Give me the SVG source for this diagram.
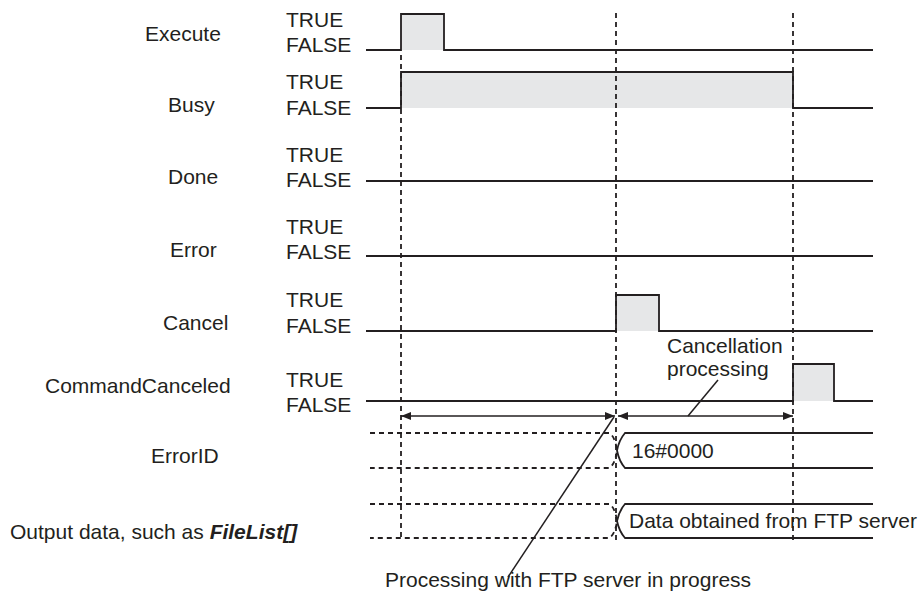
<svg xmlns="http://www.w3.org/2000/svg" width="923" height="602" viewBox="0 0 923 602">
<defs>
<style>
text{font-family:"Liberation Sans",Arial,sans-serif;font-size:21px;fill:#231f20}
.sig{fill:none;stroke:#231f20;stroke-width:1.8}
.fill{fill:#e6e7e8;stroke:none}
.dash{fill:none;stroke:#231f20;stroke-width:1.8;stroke-dasharray:5,4}
.ln{fill:none;stroke:#231f20;stroke-width:1.5}
</style>
<marker id="ah" viewBox="0 0 10 8" refX="10" refY="4" markerWidth="10" markerHeight="8" markerUnits="userSpaceOnUse" orient="auto-start-reverse">
<path d="M0,0 L10,4 L0,8 Z" fill="#231f20"/>
</marker>
</defs>
<rect width="923" height="602" fill="#fff"/>

<g id="execute">
<text x="145" y="41">Execute</text>
<text x="286" y="27">TRUE</text><text x="286" y="52">FALSE</text>
<rect class="fill" x="401" y="14" width="43" height="36"/>
<path class="sig" d="M366,50 H401 V14 H444 V50 H873"/>
</g>
<g id="busy">
<text x="168" y="112">Busy</text>
<text x="286" y="89">TRUE</text><text x="286" y="115">FALSE</text>
<rect class="fill" x="401" y="72" width="392" height="36"/>
<path class="sig" d="M366,108 H401 V72 H793 V108 H873"/>
</g>
<g id="done">
<text x="168" y="184">Done</text>
<text x="286" y="162">TRUE</text><text x="286" y="187">FALSE</text>
<path class="sig" d="M366,181 H873"/>
</g>
<g id="error">
<text x="170" y="257">Error</text>
<text x="286" y="234">TRUE</text><text x="286" y="259">FALSE</text>
<path class="sig" d="M366,256 H873"/>
</g>
<g id="cancel">
<text x="163" y="330">Cancel</text>
<text x="286" y="307">TRUE</text><text x="286" y="333">FALSE</text>
<rect class="fill" x="616" y="295" width="43" height="36"/>
<path class="sig" d="M366,331 H616 V295 H659 V331 H873"/>
</g>
<g id="commandcanceled">
<text x="45" y="393">CommandCanceled</text>
<text x="286" y="387">TRUE</text><text x="286" y="412">FALSE</text>
<rect class="fill" x="793" y="364" width="41" height="37"/>
<path class="sig" d="M366,401 H793 V364 H834 V401 H873"/>
</g>
<g id="errorid">
<text x="151" y="463">ErrorID</text>
<path class="dash" d="M370,433 H609 Q615,436 617,450.5 Q615,465 609,468 H370"/>
<path class="sig" d="M873,433 H625 Q619,440 617,450.5 Q619,461 625,468 H873"/>
<text x="632" y="458">16#0000</text>
</g>
<g id="outputdata">
<text x="10" y="539">Output data, such as <tspan font-weight="bold" font-style="italic">FileList[]</tspan></text>
<path class="dash" d="M370,504 H609 Q615,507 617,521 Q615,535 609,538 H370"/>
<path class="sig" d="M873,504 H625 Q619,511 617,521 Q619,531 625,538 H873"/>
<text x="629" y="528">Data obtained from FTP server</text>
</g>
<g id="annotations">
<text x="667" y="353">Cancellation</text>
<text x="667" y="376">processing</text>
<text x="385" y="587">Processing with FTP server in progress</text>
</g>
<g id="connectors">
<path class="dash" d="M401,55 V541"/>
<path class="dash" d="M616,13 V541"/>
<path class="dash" d="M793,13 V541"/>
<path class="ln" d="M401,416 H615" marker-start="url(#ah)" marker-end="url(#ah)"/>
<path class="ln" d="M618,416 H793" marker-start="url(#ah)" marker-end="url(#ah)"/>
<path class="ln" d="M718,380 L688,416"/>
<path class="ln" d="M508,577 L614,417"/>
</g>
</svg>
